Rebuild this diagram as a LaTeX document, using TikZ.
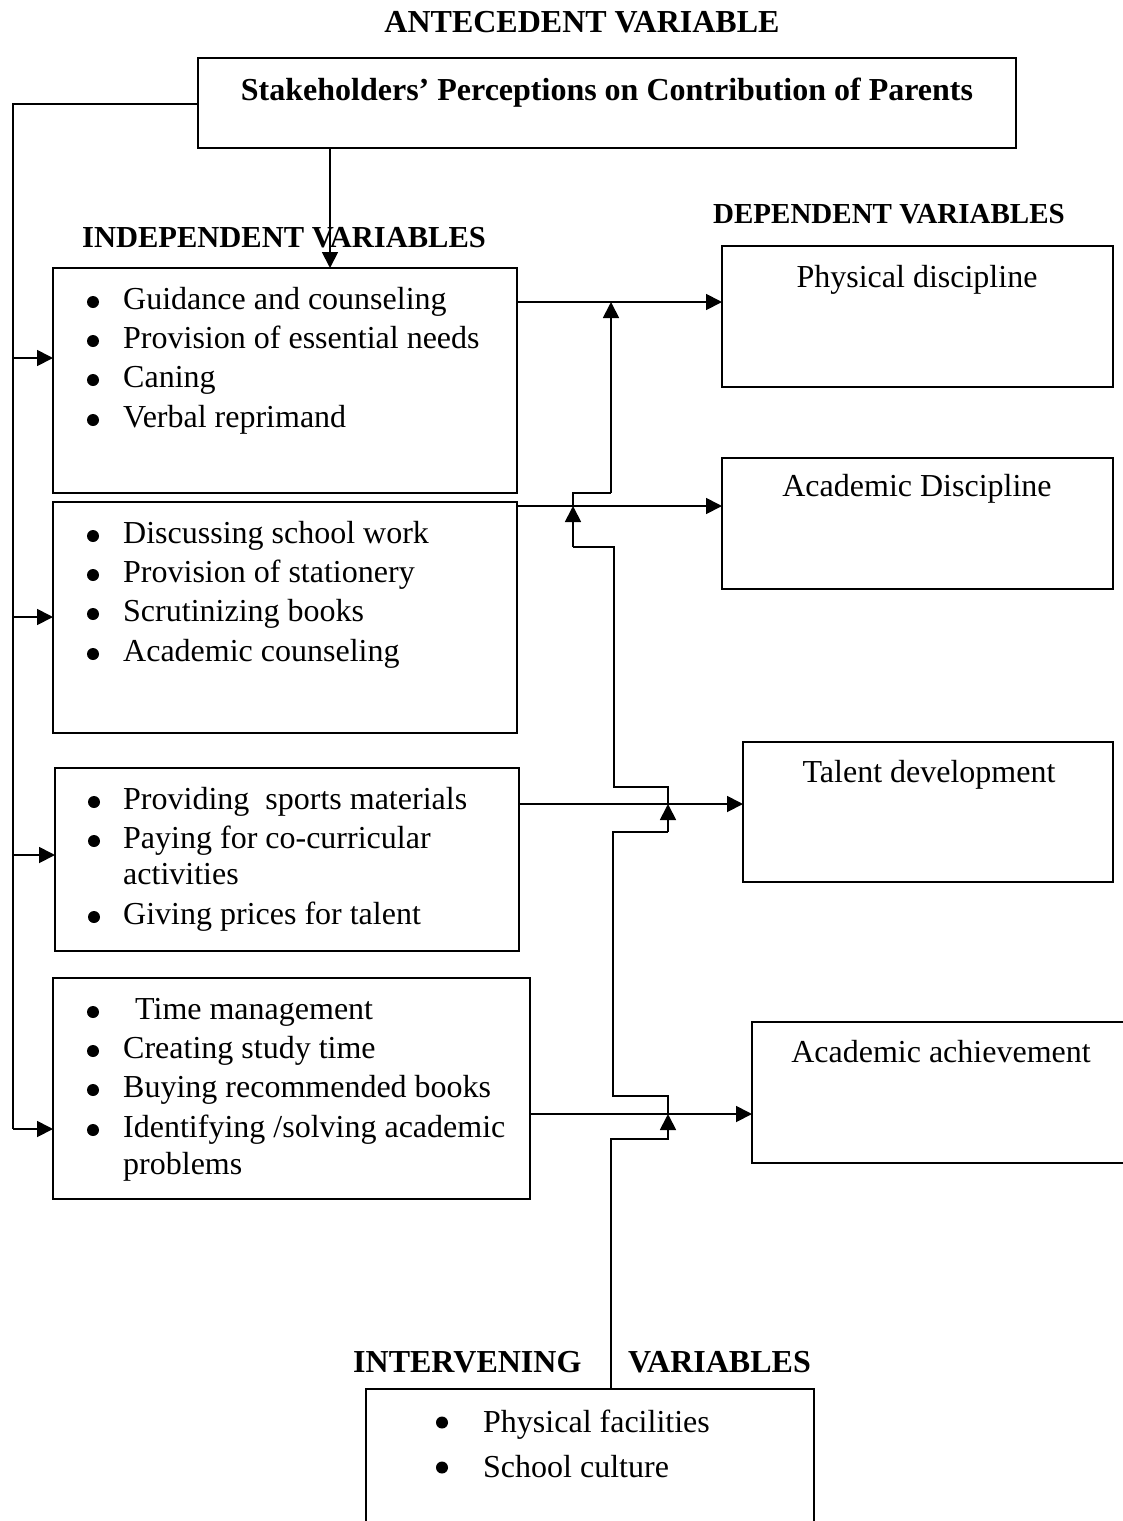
\documentclass[tikz,border=0pt]{standalone}
\usepackage{fontspec}
\setmainfont{Liberation Serif}
\usetikzlibrary{arrows.meta}
\tikzset{
  box/.style={draw, line width=1.8pt, rectangle, inner sep=0pt, outer sep=0pt, anchor=north west},
  txt/.style={inner sep=0pt, anchor=base west, font=\fontsize{32}{39}\selectfont},
  ctxt/.style={inner sep=0pt, anchor=base, font=\fontsize{32}{39}\selectfont},
  ttl/.style={inner sep=0pt, font=\bfseries\fontsize{32}{39}\selectfont},
  ln/.style={line width=1.8pt},
  arr/.style={line width=1.8pt, -{Triangle[length=16pt,width=16pt]}},
  dot/.style={fill=black},
}
\begin{document}
\begin{tikzpicture}[x=1pt,y=-1pt]
\useasboundingbox (0,0) rectangle (1123,1521);

% titles
\node[ttl, anchor=base] (tant) at (582,32) {ANTECEDENT VARIABLE};
\node[ttl, anchor=base west, font=\bfseries\fontsize{30.5}{37}\selectfont] (tind) at (82,247) {INDEPENDENT VARIABLES};
\node[ttl, anchor=base west, font=\bfseries\fontsize{29}{35}\selectfont] (tdep) at (713,223) {DEPENDENT VARIABLES};
\node[ttl, anchor=base west] (tint1) at (353,1372) {INTERVENING};
\node[ttl, anchor=base west] (tint2) at (628,1372) {VARIABLES};

% antecedent box
\node[box, minimum width=818pt, minimum height=90pt] (ant) at (198,58) {};
\node[ttl, anchor=base] (antt) at (607,100) {Stakeholders’ Perceptions on Contribution of Parents};

% independent boxes
\node[box, minimum width=464pt, minimum height=225pt] (b1) at (53,268) {};
\node[txt] (b1a) at (123,309) {Guidance and counseling};
\node[txt] (b1b) at (123,348) {Provision of essential needs};
\node[txt] (b1c) at (123,387) {Caning};
\node[txt] (b1d) at (123,427) {Verbal reprimand};
\foreach \y in {309,348,387,427} \fill[dot] (93,\y-7) circle (6pt);

\node[box, minimum width=464pt, minimum height=231pt] (b2) at (53,502) {};
\node[txt] (b2a) at (123,543) {Discussing school work};
\node[txt] (b2b) at (123,582) {Provision of stationery};
\node[txt] (b2c) at (123,621) {Scrutinizing books};
\node[txt] (b2d) at (123,661) {Academic counseling};
\foreach \y in {543,582,621,661} \fill[dot] (93,\y-7) circle (6pt);

\node[box, minimum width=464pt, minimum height=183pt] (b3) at (55,768) {};
\node[txt] (b3a) at (123,809) {Providing\ \ sports materials};
\node[txt] (b3b) at (123,848) {Paying for co-curricular};
\node[txt] (b3c) at (123,884) {activities};
\node[txt] (b3d) at (123,924) {Giving prices for talent};
\foreach \y in {809,848,924} \fill[dot] (94,\y-7) circle (6pt);

\node[box, minimum width=477pt, minimum height=221pt] (b4) at (53,978) {};
\node[txt] (b4a) at (135,1019) {Time management};
\node[txt] (b4b) at (123,1058) {Creating study time};
\node[txt] (b4c) at (123,1097) {Buying recommended books};
\node[txt] (b4d) at (123,1137) {Identifying /solving academic};
\node[txt] (b4e) at (123,1174) {problems};
\foreach \y in {1019,1058,1097,1137} \fill[dot] (93,\y-7) circle (6pt);

% dependent boxes
\node[box, minimum width=391pt, minimum height=141pt] (d1) at (722,246) {};
\node[ctxt] (d1t) at (917,287) {Physical discipline};
\node[box, minimum width=391pt, minimum height=131pt] (d2) at (722,458) {};
\node[ctxt] (d2t) at (917,496) {Academic Discipline};
\node[box, minimum width=370pt, minimum height=140pt] (d3) at (743,742) {};
\node[ctxt] (d3t) at (929,782) {Talent development};
\node[box, minimum width=400pt, minimum height=141pt] (d4) at (752,1022) {};
\node[ctxt] (d4t) at (941,1062) {Academic achievement};

% intervening box
\node[box, minimum width=448pt, minimum height=160pt] (iv) at (366,1389) {};
\node[txt] (iva) at (483,1432) {Physical facilities};
\node[txt] (ivb) at (483,1477) {School culture};
\foreach \y in {1432,1477} \fill[dot] (442,\y-9.5) circle (6pt);

% junction coordinates
\coordinate (lt) at (13,104);
\coordinate (l1) at (13,358);
\coordinate (l2) at (13,617);
\coordinate (l3) at (13,855);
\coordinate (l4) at (13,1129);
\coordinate (a1) at (611,302);
\coordinate (a2) at (573,506);
\coordinate (a3) at (668,804);
\coordinate (a4) at (668,1114);
\coordinate (q1) at (611,1139);
\coordinate (q4) at (613,1096);
\coordinate (q6) at (668,832);
\coordinate (q8) at (614,787);
\coordinate (q10) at (573,547);
\coordinate (q12) at (611,493);
\coordinate (v0) at (330,148);

% antecedent connectors
\draw[arr] (v0) -- (b1.north -| v0);
\draw[ln] (ant.west |- lt) -- (lt) -- (l4);
\draw[arr] (l1) -- (b1.west |- l1);
\draw[arr] (l2) -- (b2.west |- l2);
\draw[arr] (l3) -- (b3.west |- l3);
\draw[arr] (l4) -- (b4.west |- l4);

% independent -> dependent
\draw[arr] (b1.east |- a1) -- (d1.west |- a1);
\draw[arr] (b2.east |- a2) -- (d2.west |- a2);
\draw[arr] (b3.east |- a3) -- (d3.west |- a3);
\draw[arr] (b4.east |- a4) -- (d4.west |- a4);

% intervening chain
\draw[arr] (iv.north -| q1) |- (q1 -| a4) -- (a4);
\draw[ln] (a4) |- (q4) |- (q6);
\draw[arr] (q6) -- (a3);
\draw[ln] (a3) |- (q8) |- (q10);
\draw[arr] (q10) -- (a2);
\draw[ln] (a2) |- (q12);
\draw[arr] (q12) -- (a1);
\end{tikzpicture}
\end{document}
